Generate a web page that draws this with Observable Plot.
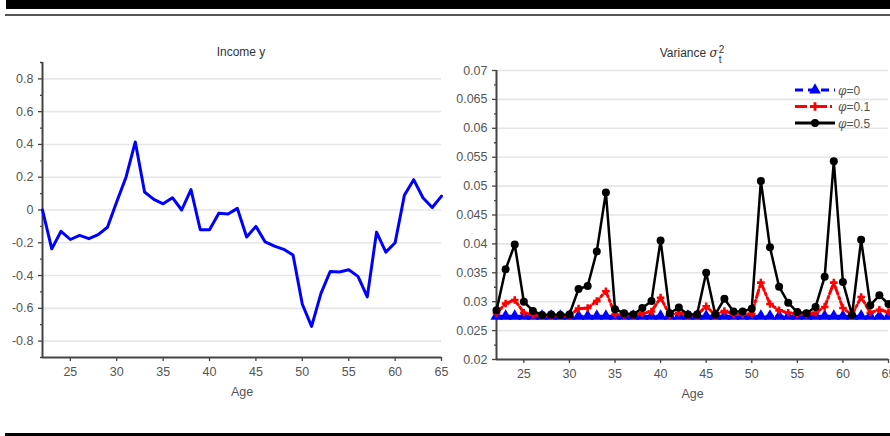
<!DOCTYPE html>
<html><head><meta charset="utf-8">
<script src="https://cdn.jsdelivr.net/npm/d3@7"></script>
<script src="https://cdn.jsdelivr.net/npm/@observablehq/plot@0.6"></script>
<style>
html,body{margin:0;padding:0;width:890px;height:436px;overflow:hidden;background:#fff;font-family:"Liberation Sans",Arial,sans-serif;}
#wrap{position:relative;width:890px;height:436px;overflow:hidden;}
.abs{position:absolute;}
.ttl{position:absolute;font-size:12px;color:#333;white-space:nowrap;transform:translateX(-50%);}
svg{overflow:visible;}
</style></head><body><div id="wrap">
<div class="abs" style="left:6px;top:0;width:884px;height:9px;background:#000"></div>
<div class="abs" style="left:5px;top:14px;width:885px;height:2px;background:#555"></div>
<div class="abs" style="left:5px;top:433px;width:885px;height:3px;background:#000"></div>
<div class="ttl" style="left:241px;top:45px;">Income y</div>
<div class="ttl" style="left:692px;top:45px;">Variance <i style="font-family:'DejaVu Serif',serif;font-size:12px">σ</i><span style="display:inline-block;vertical-align:-6px;font-size:10px;line-height:10px;text-align:left;margin-left:1px">2<br>t</span></div>
<div id="left" class="abs" style="left:0;top:40px;"></div>
<div id="right" class="abs" style="left:445px;top:40px;"></div>
<div id="legend" class="abs" style="left:790px;top:80px;"></div>
</div>
<script>
const ages = [22,23,24,25,26,27,28,29,30,31,32,33,34,35,36,37,38,39,40,41,42,43,44,45,46,47,48,49,50,51,52,53,54,55,56,57,58,59,60,61,62,63,64,65];
const income = [0,-0.237,-0.13,-0.18,-0.155,-0.175,-0.15,-0.105,0.05,0.2,0.415,0.11,0.065,0.038,0.075,0.0,0.125,-0.12,-0.12,-0.02,-0.025,0.01,-0.165,-0.1,-0.195,-0.22,-0.24,-0.275,-0.575,-0.71,-0.51,-0.375,-0.378,-0.365,-0.405,-0.53,-0.135,-0.257,-0.2,0.09,0.185,0.075,0.015,0.085];
const varPhi0 = [0.0275,0.0275,0.0275,0.0275,0.0275,0.0275,0.0275,0.0275,0.0275,0.0275,0.0275,0.0275,0.0275,0.0275,0.0275,0.0275,0.0275,0.0275,0.0275,0.0275,0.0275,0.0275,0.0275,0.0275,0.0275,0.0275,0.0275,0.0275,0.0275,0.0275,0.0275,0.0275,0.0275,0.0275,0.0275,0.0275,0.0275,0.0275,0.0275,0.0275,0.0275,0.0275,0.0275,0.0275];
const varPhi01 = [0.0280,0.0297,0.0303,0.0281,0.0277,0.0276,0.0276,0.0276,0.0276,0.0288,0.0289,0.0301,0.0318,0.0278,0.0277,0.0277,0.0280,0.0283,0.0307,0.0277,0.0281,0.0277,0.0277,0.0292,0.0277,0.0284,0.0278,0.0278,0.0279,0.0333,0.0296,0.0285,0.0281,0.0278,0.0278,0.0281,0.0291,0.0333,0.0289,0.0277,0.0308,0.0281,0.0286,0.0282];
const varPhi05 = [0.0285,0.0356,0.0399,0.0300,0.0284,0.0277,0.0278,0.0277,0.0278,0.0322,0.0327,0.0387,0.0489,0.0287,0.0280,0.0278,0.0289,0.0301,0.0406,0.0280,0.0290,0.0278,0.0278,0.0350,0.0278,0.0305,0.0283,0.0283,0.0288,0.0509,0.0394,0.0326,0.0298,0.0282,0.0280,0.0291,0.0343,0.0543,0.0334,0.0277,0.0407,0.0294,0.0311,0.0296];
const seriesNames = ["φ=0","φ=0.1","φ=0.5"];
const xTicks = [25,30,35,40,45,50,55,60,65];
const leftMajor = [-0.8,-0.6,-0.4,-0.2,0,0.2,0.4,0.6,0.8];
const leftMinor = [-0.9,-0.7,-0.5,-0.3,-0.1,0.1,0.3,0.5,0.7,0.9];
const rightMajor = [0.02,0.025,0.03,0.035,0.04,0.045,0.05,0.055,0.06,0.065,0.07];
const rightMinor = [0.0225,0.0275,0.0325,0.0375,0.0425,0.0475,0.0525,0.0575,0.0625,0.0675];

const incomeData = ages.map((a,i)=>({age:a, y:income[i]}));
const v0 = ages.map((a,i)=>({age:a, v:varPhi0[i]}));
const v1 = ages.map((a,i)=>({age:a, v:varPhi01[i]}));
const v5 = ages.map((a,i)=>({age:a, v:varPhi05[i]}));

const baseStyle = {fontFamily:"Liberation Sans, Arial, sans-serif", fontSize:"12.5px", color:"#555", background:"transparent", overflow:"visible"};
const axisCol = "#444";
const gridCol = "#e6e6e6";

const left = Plot.plot({
  width:450, height:370, marginLeft:42, marginRight:9, marginTop:22, marginBottom:53,
  style: baseStyle,
  x:{domain:[22,65]}, y:{domain:[-0.9,0.9]},
  marks:[
    Plot.gridY(leftMajor, {stroke:gridCol, strokeOpacity:1, strokeWidth:1.6}),
    Plot.axisY(leftMinor, {tickSize:2, text:null, stroke:axisCol, strokeWidth:1.3, label:null}),
    Plot.axisY(leftMajor, {tickSize:4, tickPadding:5, stroke:axisCol, strokeWidth:1.3, tickFormat:d=>String(d), label:null}),
    Plot.axisX(xTicks, {tickSize:4, tickPadding:6, stroke:axisCol, strokeWidth:1.3, label:"Age", labelAnchor:"center", labelArrow:"none", labelOffset:38}),
    Plot.ruleX([22], {stroke:axisCol, strokeWidth:2}),
    Plot.ruleY([-0.9], {stroke:axisCol, strokeWidth:2}),
    Plot.line(incomeData, {x:"age", y:"y", stroke:"#0000ff", strokeWidth:3})
  ]
});
document.getElementById("left").appendChild(left);

const right = Plot.plot({
  width:445, height:370, marginLeft:51, marginRight:2, marginTop:30, marginBottom:51,
  style: baseStyle,
  x:{domain:[22,65]}, y:{domain:[0.02,0.07]},
  marks:[
    Plot.gridY(rightMajor, {stroke:gridCol, strokeOpacity:1, strokeWidth:1.6}),
    Plot.axisY(rightMinor, {tickSize:2, text:null, stroke:axisCol, strokeWidth:1.3, label:null}),
    Plot.axisY(rightMajor, {tickSize:4, tickPadding:5, stroke:axisCol, strokeWidth:1.3, tickFormat:d=>String(d), label:null}),
    Plot.axisX(xTicks, {tickSize:4, tickPadding:6, stroke:axisCol, strokeWidth:1.3, label:"Age", labelAnchor:"center", labelArrow:"none", labelOffset:38}),
    Plot.ruleX([22], {stroke:axisCol, strokeWidth:2}),
    Plot.ruleY([0.02], {stroke:axisCol, strokeWidth:2}),
    Plot.line(v0, {x:"age", y:"v", stroke:"#0000ff", strokeWidth:3, strokeDasharray:"6,4"}),
    Plot.dot(v0, {x:"age", y:"v", symbol:"triangle", r:4.5, fill:"#0000ff"}),
    Plot.line(v1, {x:"age", y:"v", stroke:"#ff0000", strokeWidth:3, strokeDasharray:"8,3,2,3"}),
    Plot.dot(v1, {x:"age", y:"v", symbol:"cross", r:3.2, fill:"#ff0000"}),
    Plot.line(v5, {x:"age", y:"v", stroke:"#000", strokeWidth:2.5}),
    Plot.dot(v5, {x:"age", y:"v", symbol:"circle", r:4, fill:"#000"})
  ]
});
document.getElementById("right").appendChild(right);

// legend
const legendSpec = [
  {name:seriesNames[0], color:"#0000ff", dash:"8,5", sym:d3.symbolTriangle, size:60},
  {name:seriesNames[1], color:"#ff0000", dash:"12,3,2,3", sym:d3.symbolCross, size:40},
  {name:seriesNames[2], color:"#000", dash:null, sym:d3.symbolCircle, size:50}
];
const lg = d3.select("#legend").append("svg").attr("width",100).attr("height",60).style("overflow","visible");
legendSpec.forEach((s,i)=>{
  const yy = 10 + i*16.5;
  const g = lg.append("g").attr("transform",`translate(0,${yy})`);
  g.append("line").attr("x1",5).attr("x2",45).attr("y1",0).attr("y2",0)
    .attr("stroke",s.color).attr("stroke-width",3).attr("stroke-dasharray",s.dash);
  g.append("path").attr("d",d3.symbol(s.sym,s.size)()).attr("transform","translate(25,0)").attr("fill",s.color);
  const t = g.append("text").attr("x",48).attr("y",4.5).attr("font-size",12).attr("fill","#555")
    .attr("font-family","Liberation Sans, Arial, sans-serif");
  t.append("tspan").attr("font-style","italic").attr("font-family","DejaVu Serif, serif").text(s.name.slice(0,1));
  t.append("tspan").text(s.name.slice(1));
});
</script>
</body></html>
